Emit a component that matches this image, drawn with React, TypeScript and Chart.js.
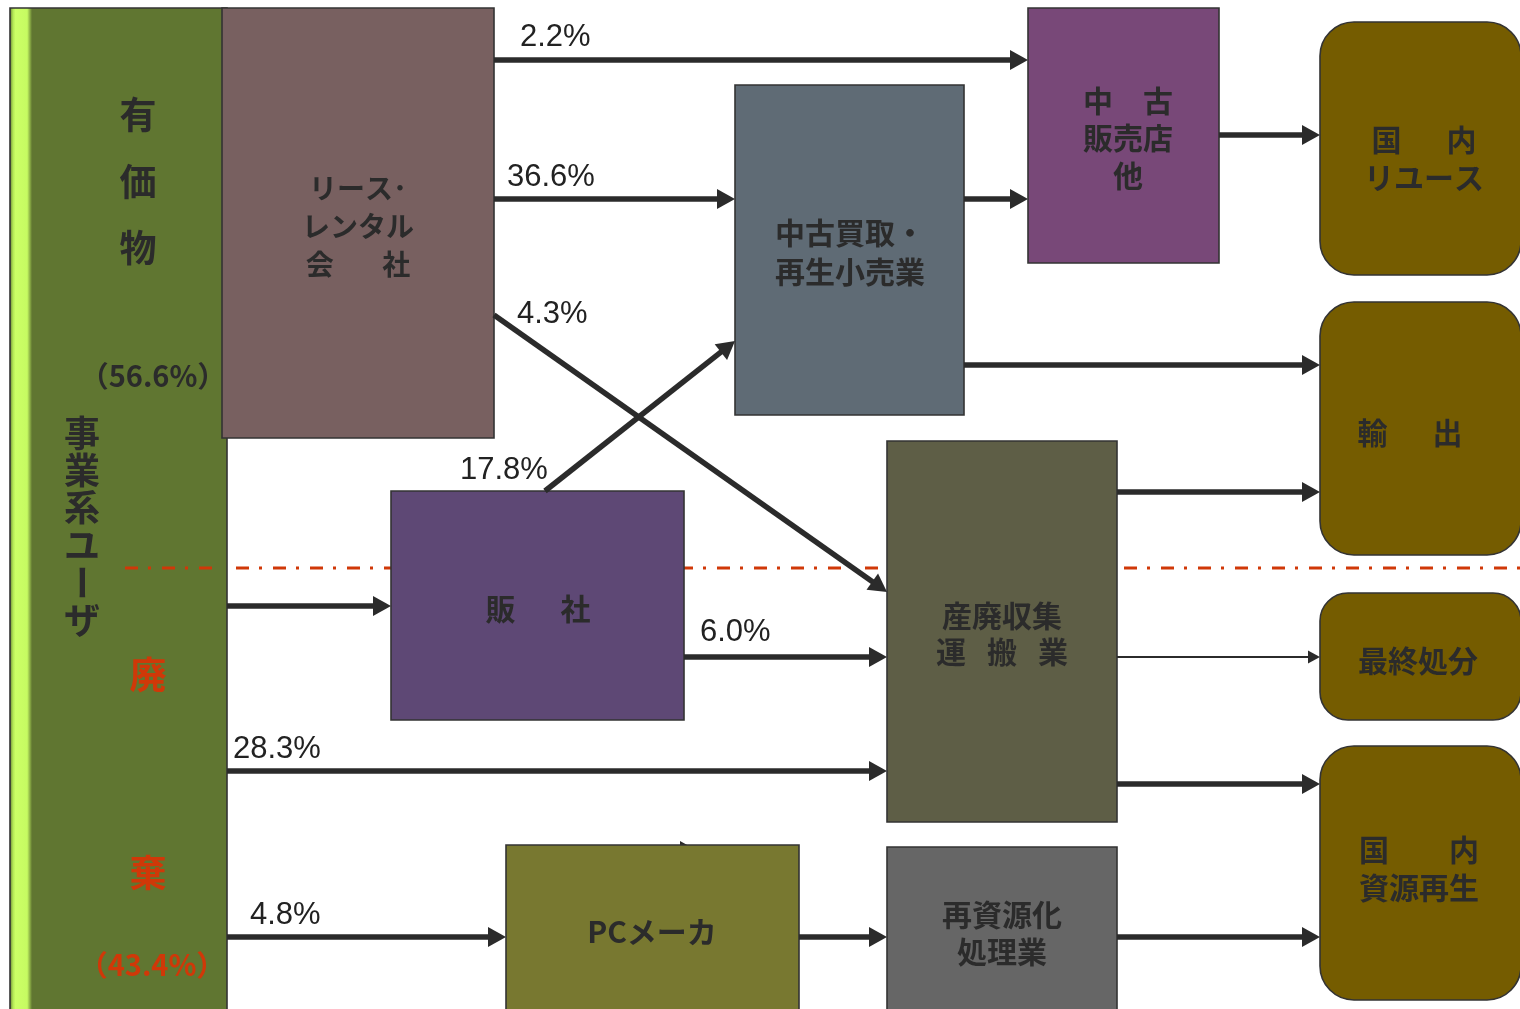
import { useEffect, useRef } from 'react';
import { Chart, registerables } from 'chart.js';

Chart.register(...registerables);

// ---- nodes (boxes) in diagram units ----
const nodeIds = ['user', 'lease', 'usedBuy', 'usedShop', 'reuse', 'export', 'landfill', 'recycleDom', 'dealer', 'waste', 'pcMaker', 'recycler'];
const nodeX0 = [10, 222, 735, 1028, 1320, 1320, 1320, 1320, 391, 887, 506, 887];
const nodeX1 = [227, 494, 964, 1219, 1521, 1521, 1521, 1521, 684, 1117, 799, 1117];
const nodeY0 = [8, 8, 85, 8, 22, 302, 593, 746, 491, 441, 845, 847];
const nodeY1 = [1040, 438, 415, 263, 275, 555, 720, 1000, 720, 822, 1040, 1040];
const nodeRadius = [0, 0, 0, 0, 34, 34, 28, 34, 0, 0, 0, 0];
const nodeColors = ['#607631', '#786060', '#5f6b75', '#784878', '#755c00', '#755c00', '#755c00', '#755c00', '#5e4875', '#5e5e46', '#787830', '#666666'];
const nodeLines = [
  [],
  ['リース･', 'レンタル', '会\u3000 \u2002社'],
  ['中古買取・', '再生小売業'],
  ['中\u3000古', '販売店', '他'],
  ['国\u3000\u2002内', 'リユース'],
  ['輸\u3000\u2002出'],
  ['最終処分'],
  ['国\u3000\u3000内', '資源再生'],
  ['販\u3000\u2002社'],
  ['産廃収集', '運\u2002\u2009搬\u2002\u2009業'],
  ['PCメーカ'],
  ['再資源化', '処理業'],
];
const nodeTextX = [0, 358, 850, 1128, 1424, 1410, 1418, 1419, 538, 1002, 652, 1002];
const nodeTextY = [0, 226, 252, 138, 159, 433, 661, 869, 609, 634, 932, 933];
const nodeTextSize = [0, 28, 30, 30, 30, 30, 30, 30, 30, 30, 30, 30];
const nodeLineGap = [0, 38, 39, 37.5, 38, 38, 38, 38, 38, 36, 38, 37];

// ---- flows (arrows) ----
const flowLabels = ['2.2%', '36.6%', '4.3%', '17.8%', '6.0%', '28.3%', '4.8%'];
const flowLabelX = [520, 507, 517, 460, 700, 233, 250];
const flowLabelY = [37, 177, 314, 470, 632, 749, 915];

const arrowX0 = [494, 494, 494, 545, 964, 1219, 964, 1117, 227, 684, 1117, 227, 1117, 227, 799, 1117, 560];
const arrowY0 = [60, 199, 315, 491, 199, 135, 365, 492, 606, 657, 657, 771, 784, 937, 937, 937, 851];
const arrowX1 = [1028, 735, 887, 735, 1028, 1320, 1320, 1320, 391, 887, 1320, 887, 1320, 506, 887, 1320, 698];
const arrowY1 = [60, 199, 592, 341, 199, 135, 365, 492, 606, 657, 657, 771, 784, 937, 937, 937, 851];
const arrowThin = [false, false, false, false, false, false, false, false, false, false, true, false, false, false, false, false, false];
const arrowUnder = [false, false, false, false, false, false, false, false, false, false, false, false, false, false, false, false, true];

// ---- left column labels ----
const valuableChars = ['有', '価', '物'];
const valuableY = [115, 182, 248];
const valuableShare = '（56.6%）';
const userChars = ['事', '業', '系', 'ユ', 'ー', 'ザ'];
const wasteChars = ['廃', '棄'];
const wasteY = [675, 873];
const wasteShare = '（43.4%）';

const DARK = '#2b2b2b';
const RED = '#d03808';
const CJK = '"Noto Sans CJK JP", "Noto Sans CJK SC", sans-serif';
const LATIN = '"Liberation Sans", Arial, sans-serif';
const DASH = [13, 10, 3, 11];

function drawArrow(ctx: CanvasRenderingContext2D, px: (v: number) => number, py: (v: number) => number, i: number) {
  const x0 = px(arrowX0[i]), y0 = py(arrowY0[i]);
  const x1 = px(arrowX1[i]), y1 = py(arrowY1[i]);
  const thin = arrowThin[i];
  const lw = thin ? 2 : 5.5;
  const hl = thin ? 12 : 18;
  const hw = thin ? 6.5 : 10;
  const dx = x1 - x0, dy = y1 - y0;
  const len = Math.hypot(dx, dy);
  const ux = dx / len, uy = dy / len;
  const bx = x1 - ux * hl, by = y1 - uy * hl;
  ctx.save();
  ctx.strokeStyle = DARK;
  ctx.fillStyle = DARK;
  ctx.lineWidth = lw;
  ctx.lineCap = 'butt';
  ctx.beginPath();
  ctx.moveTo(x0, y0);
  ctx.lineTo(bx + ux * 2, by + uy * 2);
  ctx.stroke();
  ctx.beginPath();
  ctx.moveTo(x1, y1);
  ctx.lineTo(bx - uy * hw, by + ux * hw);
  ctx.lineTo(bx + uy * hw, by - ux * hw);
  ctx.closePath();
  ctx.fill();
  ctx.restore();
}

function dashLine(ctx: CanvasRenderingContext2D, xa: number, xb: number, y: number) {
  ctx.save();
  ctx.strokeStyle = RED;
  ctx.lineWidth = 2.8;
  ctx.setLineDash(DASH);
  ctx.beginPath();
  ctx.moveTo(xa, y);
  ctx.lineTo(xb, y);
  ctx.stroke();
  ctx.restore();
}

const diagramPlugin = {
  id: 'flowDiagram',
  beforeDatasetsDraw(chart: any) {
    const { ctx, scales } = chart;
    const px = (v: number) => scales.x.getPixelForValue(v);
    const py = (v: number) => scales.y.getPixelForValue(v);

    dashLine(ctx, px(125), px(1520), py(568));

    arrowX0.forEach((_, i) => { if (arrowUnder[i]) drawArrow(ctx, px, py, i); });

    nodeIds.forEach((id, i) => {
      const x0 = px(nodeX0[i]), x1 = px(nodeX1[i]);
      const y0 = py(nodeY0[i]), y1 = py(nodeY1[i]);
      const path = () => {
        ctx.beginPath();
        if (nodeRadius[i] > 0) ctx.roundRect(x0, y0, x1 - x0, y1 - y0, nodeRadius[i]);
        else ctx.rect(x0, y0, x1 - x0, y1 - y0);
      };
      ctx.save();
      path();
      ctx.fillStyle = nodeColors[i];
      ctx.fill();
      if (id === 'user') {
        const g = ctx.createLinearGradient(x0, 0, x0 + 22, 0);
        g.addColorStop(0, '#6d8a36');
        g.addColorStop(0.14, '#b4e856');
        g.addColorStop(0.25, '#ccff66');
        g.addColorStop(0.78, '#c6fb62');
        g.addColorStop(1, '#607631');
        ctx.fillStyle = g;
        ctx.fillRect(x0, y0, 22, y1 - y0);
      }
      ctx.lineWidth = 1.6;
      ctx.strokeStyle = '#333333';
      path();
      ctx.stroke();
      ctx.restore();
    });

    // boundary line visible over the user column
    dashLine(ctx, px(125), px(222), py(568));
  },
  afterDatasetsDraw(chart: any) {
    const { ctx, scales } = chart;
    const px = (v: number) => scales.x.getPixelForValue(v);
    const py = (v: number) => scales.y.getPixelForValue(v);

    arrowX0.forEach((_, i) => { if (!arrowUnder[i]) drawArrow(ctx, px, py, i); });

    ctx.save();
    ctx.textAlign = 'center';
    ctx.textBaseline = 'middle';

    nodeLines.forEach((lines, i) => {
      if (!lines.length) return;
      const lh = nodeLineGap[i];
      ctx.font = `bold ${nodeTextSize[i]}px ${CJK}`;
      ctx.fillStyle = DARK;
      const top = nodeTextY[i] - ((lines.length - 1) * lh) / 2;
      lines.forEach((t, j) => ctx.fillText(t, px(nodeTextX[i]), py(top + j * lh)));
    });

    ctx.fillStyle = DARK;
    ctx.font = `bold 37px ${CJK}`;
    valuableChars.forEach((c, i) => ctx.fillText(c, px(138), py(valuableY[i])));
    ctx.font = `bold 29px ${CJK}`;
    ctx.fillText(valuableShare, px(153), py(376));

    ctx.font = `bold 36px ${CJK}`;
    userChars.forEach((c, i) => {
      const cx = px(82), cy = py(433 + i * 37.4);
      if (c === 'ー') {
        ctx.save();
        ctx.translate(cx, cy);
        ctx.rotate(Math.PI / 2);
        ctx.fillText(c, 0, 0);
        ctx.restore();
      } else {
        ctx.fillText(c, cx, cy);
      }
    });

    ctx.fillStyle = RED;
    ctx.font = `bold 37px ${CJK}`;
    wasteChars.forEach((c, i) => ctx.fillText(c, px(148), py(wasteY[i])));
    ctx.font = `bold 29px ${CJK}`;
    ctx.fillText(wasteShare, px(152), py(965));

    ctx.textAlign = 'left';
    ctx.fillStyle = '#222222';
    ctx.font = `31px ${LATIN}`;
    flowLabels.forEach((t, i) => ctx.fillText(t, px(flowLabelX[i]), py(flowLabelY[i])));
    ctx.restore();
  },
};

export default function App() {
  const canvasRef = useRef<HTMLCanvasElement | null>(null);

  useEffect(() => {
    document.body.style.margin = '0';
    const canvas = canvasRef.current;
    if (!canvas) return;
    const chart = new Chart(canvas, {
      type: 'scatter',
      data: { datasets: [{ data: [], pointRadius: 0 }] },
      options: {
        animation: false,
        responsive: false,
        maintainAspectRatio: false,
        layout: { padding: 0 },
        plugins: { legend: { display: false }, tooltip: { enabled: false }, title: { display: false } },
        scales: {
          x: { type: 'linear', min: 0, max: 1520, display: false },
          y: { type: 'linear', min: 0, max: 1009, reverse: true, display: false },
        },
      },
      plugins: [diagramPlugin],
    });
    return () => chart.destroy();
  }, []);

  return (
    <div style={{ width: 1520, height: 1009, background: '#ffffff' }}>
      <canvas ref={canvasRef} width={1520} height={1009} style={{ display: 'block', width: 1520, height: 1009 }} />
    </div>
  );
}
